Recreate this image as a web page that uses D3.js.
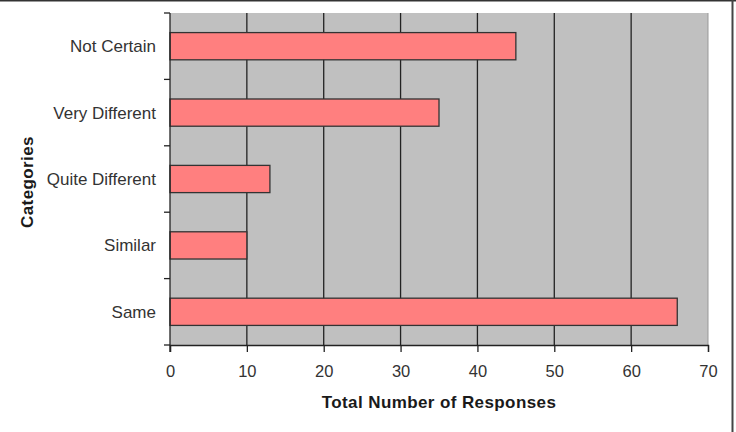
<!DOCTYPE html>
<meta charset="utf-8">
<style>
body { margin: 0; background: #fff; }
svg { font-family: "Liberation Sans", Arial, sans-serif; }
.tick text { font-size: 16.5px; fill: #333; }
.ylab { font-size: 17px; fill: #333; }
.title { font-size: 17px; font-weight: bold; fill: #1a1a1a; letter-spacing: 0.4px; }
.bar { fill: #ff7f7f; stroke: #333; stroke-width: 1.3; }
</style>
<body>
<script src="https://cdn.jsdelivr.net/npm/d3@7"></script>
<script>
var categories = ["Same", "Similar", "Quite Different", "Very Different", "Not Certain"];
var responses = [66, 10, 13, 35, 45];
var xTicks = [0, 10, 20, 30, 40, 50, 60, 70];

var w = 736, h = 432,
    plotLeft = 170, plotRight = 708, plotTop = 13, plotBottom = 345;

var svg = d3.select("body").append("svg")
    .attr("width", w)
    .attr("height", h);

/* frame: only top and right edges show */
svg.append("line").attr("x1", 0).attr("x2", w).attr("y1", 0.5).attr("y2", 0.5)
    .attr("stroke", "#333").attr("stroke-width", 2);
svg.append("line").attr("x1", 732.5).attr("x2", 732.5).attr("y1", 0).attr("y2", h)
    .attr("stroke", "#444").attr("stroke-width", 2);

var x = d3.scaleLinear().domain([0, 70]).range([plotLeft, plotRight]);
var order = categories.slice().reverse();
var y = d3.scaleBand().domain(order).range([plotTop, plotBottom]).paddingInner(0.59).paddingOuter(0.295);
var yb = d3.scaleBand().domain(order).range([plotTop, plotBottom]);

/* plot area */
svg.append("rect")
    .attr("x", plotLeft).attr("y", plotTop)
    .attr("width", plotRight - plotLeft).attr("height", plotBottom - plotTop)
    .attr("fill", "#c0c0c0");

/* gridlines */
svg.selectAll("line.grid")
    .data(xTicks.filter(function(d) { return d > 0 && d < 70; }))
  .enter().append("line")
    .attr("class", "grid")
    .attr("x1", function(d) { return x(d); })
    .attr("x2", function(d) { return x(d); })
    .attr("y1", plotTop).attr("y2", plotBottom)
    .attr("stroke", "#222").attr("stroke-width", 1.3);

svg.append("line")
    .attr("x1", plotRight).attr("x2", plotRight).attr("y1", plotTop).attr("y2", plotBottom)
    .attr("stroke", "#999");

/* bars */
svg.selectAll("rect.bar")
    .data(categories)
  .enter().append("rect")
    .attr("class", "bar")
    .attr("x", x(0))
    .attr("y", function(d) { return y(d); })
    .attr("height", y.bandwidth())
    .attr("width", function(d, i) { return x(responses[i]) - x(0); });

/* x axis */
var xAxis = svg.append("g")
    .attr("transform", "translate(0," + plotBottom + ")")
    .call(d3.axisBottom(x).tickValues(xTicks).tickSize(7).tickPadding(13));
xAxis.select(".domain").attr("stroke", "#222").attr("stroke-width", 1.3);
xAxis.selectAll(".tick line").attr("stroke", "#222").attr("stroke-width", 1.3);

/* y axis: ticks between categories, labels at band centres */
var yAxis = svg.append("g").attr("transform", "translate(" + plotLeft + ",0)");
yAxis.append("line").attr("x1", 0).attr("x2", 0).attr("y1", plotTop).attr("y2", plotBottom + 7)
    .attr("stroke", "#222").attr("stroke-width", 1.3);
yAxis.selectAll("line.ytick")
    .data(d3.range(6))
  .enter().append("line")
    .attr("class", "ytick")
    .attr("x1", -6).attr("x2", 0)
    .attr("y1", function(i) { return plotTop + i * yb.step(); })
    .attr("y2", function(i) { return plotTop + i * yb.step(); })
    .attr("stroke", "#222").attr("stroke-width", 1.3);
yAxis.selectAll("text.ylab")
    .data(categories)
  .enter().append("text")
    .attr("class", "ylab")
    .attr("x", -14)
    .attr("y", function(d) { return yb(d) + yb.bandwidth() / 2; })
    .attr("dy", "0.35em")
    .attr("text-anchor", "end")
    .text(function(d) { return d; });

/* titles */
svg.append("text")
    .attr("class", "title")
    .attr("x", (plotLeft + plotRight) / 2)
    .attr("y", 408)
    .attr("text-anchor", "middle")
    .text("Total Number of Responses");

svg.append("text")
    .attr("class", "title")
    .attr("transform", "translate(33," + ((plotTop + plotBottom) / 2 + 3) + ") rotate(-90)")
    .attr("text-anchor", "middle")
    .text("Categories");
</script>
</body>
